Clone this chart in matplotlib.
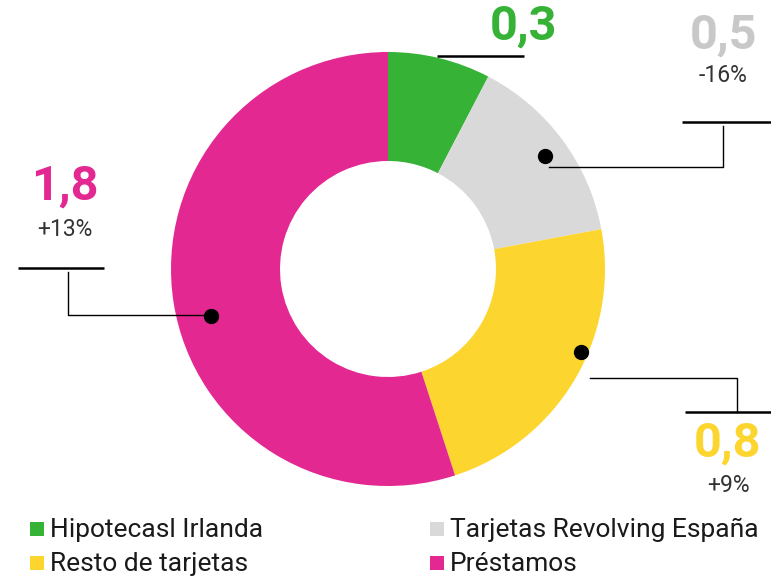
import matplotlib
matplotlib.use("Agg")
import matplotlib.pyplot as plt
from matplotlib.patches import Rectangle

# ---- data ----
categories = ["Hipotecasl Irlanda", "Tarjetas Revolving España", "Resto de tarjetas", "Préstamos"]
values = [0.26, 0.49, 0.78, 1.87]          # wedge sizes
value_labels = ["0,3", "0,5", "0,8", "1,8"]
change_labels = ["", "-16%", "+9%", "+13%"]
colors = ["#36b336", "#d9d9d9", "#fdd52f", "#e32891"]
label_colors = ["#36b336", "#c8c8c8", "#fdd52f", "#e32891"]

W, H = 771, 583
fig = plt.figure(figsize=(W / 100, H / 100), dpi=100)
ax = fig.add_axes([0, 0, 1, 1])

def Y(y):
    return H - y

cx, cy, R, ring = 388, 269, 217, 109
ax.pie(values, colors=colors, startangle=90, counterclock=False,
       center=(cx, Y(cy)), radius=R,
       wedgeprops=dict(width=ring, linewidth=0), frame=False)
ax.set_xlim(0, W)
ax.set_ylim(0, H)
ax.set_aspect("equal")
ax.axis("off")

FONT = ["Roboto", "DejaVu Sans"]
bar_lw, con_lw = 1.8, 1.0
BIG, SMALL, LEG = 35, 16.5, 19

# green
ax.text(523, Y(27), value_labels[0], color=label_colors[0], fontsize=BIG,
        fontweight="bold", ha="center", va="center", family=FONT)
ax.plot([437, 524], [Y(56), Y(56)], color="black", lw=bar_lw, solid_capstyle="butt")

# gray
ax.text(724, Y(36), value_labels[1], color=label_colors[1], fontsize=BIG,
        fontweight="bold", ha="center", va="center", family=FONT)
ax.text(723, Y(75), change_labels[1], color="#333333", fontsize=SMALL,
        ha="center", va="center", family=FONT)
ax.plot([682, 771], [Y(122), Y(122)], color="black", lw=bar_lw, solid_capstyle="butt")
ax.plot([549, 723, 723], [Y(167), Y(167), Y(126)], color="black", lw=con_lw)
ax.plot([545], [Y(156)], "o", color="black", markersize=10)

# yellow
ax.text(728, Y(444), value_labels[2], color=label_colors[2], fontsize=BIG,
        fontweight="bold", ha="center", va="center", family=FONT)
ax.text(729, Y(485), change_labels[2], color="#333333", fontsize=SMALL,
        ha="center", va="center", family=FONT)
ax.plot([685, 771], [Y(412), Y(412)], color="black", lw=bar_lw, solid_capstyle="butt")
ax.plot([590, 737, 737], [Y(378), Y(378), Y(412)], color="black", lw=con_lw)
ax.plot([581], [Y(352)], "o", color="black", markersize=10)

# pink
ax.text(65, Y(187), value_labels[3], color=label_colors[3], fontsize=BIG,
        fontweight="bold", ha="center", va="center", family=FONT)
ax.text(65, Y(229), change_labels[3], color="#333333", fontsize=SMALL,
        ha="center", va="center", family=FONT)
ax.plot([18, 104], [Y(268), Y(268)], color="black", lw=bar_lw, solid_capstyle="butt")
ax.plot([68, 68, 211], [Y(272), Y(315), Y(315)], color="black", lw=con_lw)
ax.plot([211], [Y(316)], "o", color="black", markersize=10)

# legend
leg_pos = [(30, 529), (430, 529), (30, 563), (430, 563)]
for (lx, ly), cat, col in zip(leg_pos, categories, colors):
    ax.add_patch(Rectangle((lx, Y(ly) - 7), 14, 14, color=col, lw=0))
    ax.text(lx + 20, Y(ly) - 1, cat, color="#1a1a1a", fontsize=LEG,
            ha="left", va="center", family=FONT)

fig.savefig("out.png", dpi=100)
